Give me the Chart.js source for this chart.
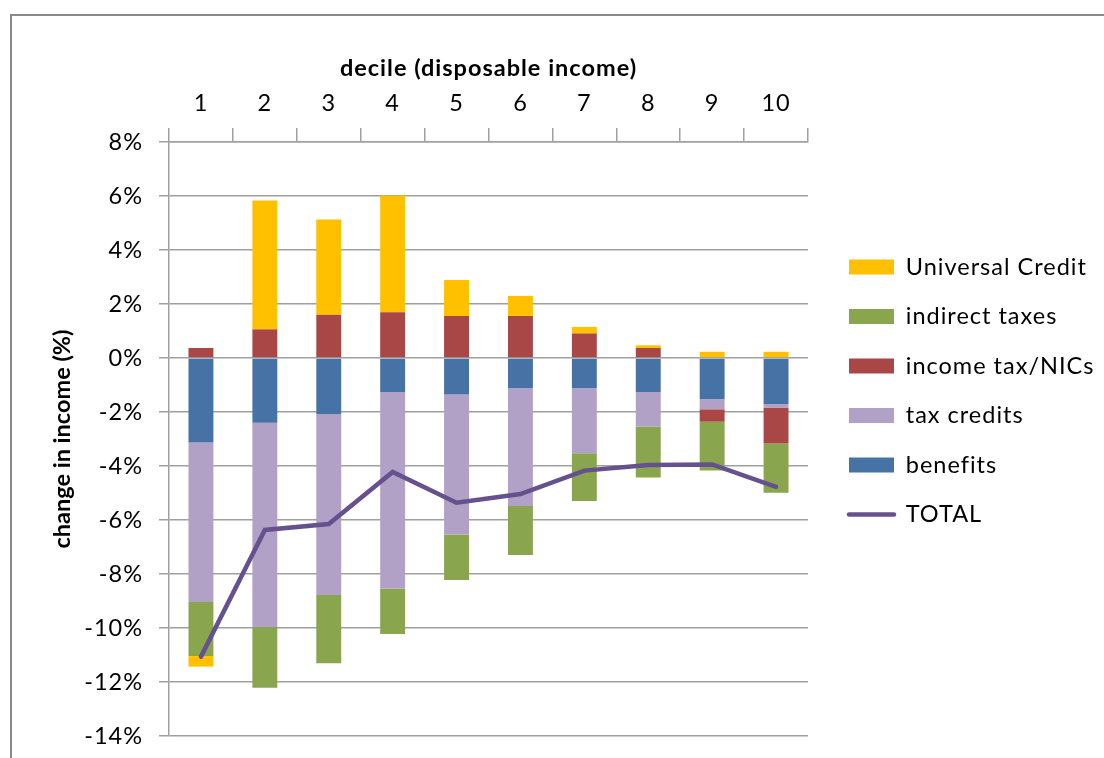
<!DOCTYPE html>
<html><head><meta charset="utf-8">
<script src="https://cdn.jsdelivr.net/npm/chart.js@4.4.1/dist/chart.umd.min.js"></script>
<style>html,body{margin:0;padding:0;background:#fff}#wrap{width:1104px;height:758px;position:relative}</style>
</head><body><div id="wrap"><canvas id="c" width="1104" height="758"></canvas></div>
<script>
const deciles = ['1','2','3','4','5','6','7','8','9','10'];
const benefits = [-3.13, -2.40, -2.08, -1.26, -1.35, -1.12, -1.12, -1.26, -1.53, -1.70];
const taxCredits = [-5.91, -7.56, -6.70, -7.28, -5.19, -4.36, -2.41, -1.28, -0.37, -0.15];
const incomeTaxNICs = [0.37, 1.06, 1.60, 1.69, 1.56, 1.56, 0.91, 0.37, -0.46, -1.32];
const indirectTaxes = [-2.00, -2.25, -2.53, -1.68, -1.68, -1.82, -1.77, -1.89, -1.81, -1.82];
const universalCredit = [-0.39, 4.77, 3.53, 4.33, 1.33, 0.74, 0.24, 0.10, 0.23, 0.23];
const total = [-11.06, -6.37, -6.15, -4.22, -5.36, -5.04, -4.17, -3.96, -3.94, -4.77];
const yTicks = [-14, -12, -10, -8, -6, -4, -2, 0, 2, 4, 6, 8];
const legendOrder = ['Universal Credit', 'indirect taxes', 'income tax/NICs', 'tax credits', 'benefits', 'TOTAL'];

const FONT = 'Lato, Carlito, Calibri, sans-serif';
const FS = 23.5;
const GRID = '#a0a0a0';
const SPACING = '1px';

const bar = (label, data, color) => ({
  type: 'bar', label, data, backgroundColor: color, borderWidth: 0,
  order: 1, pointStyle: 'rect', barPercentage: 0.39, categoryPercentage: 1
});

const frame = {
  id: 'frame',
  beforeDraw(chart) {
    const ctx = chart.ctx;
    ctx.letterSpacing = SPACING;
    ctx.save();
    ctx.fillStyle = '#fff';
    ctx.fillRect(0, 0, chart.width, chart.height);
    ctx.strokeStyle = '#8a8a8a';
    ctx.lineWidth = 2;
    ctx.strokeRect(11, 15, chart.width + 20, chart.height + 20);
    ctx.restore();
  }
};

const spacing = {
  id: 'spacing',
  beforeInit(chart) { chart.ctx.letterSpacing = SPACING; },
  beforeLayout(chart) { chart.ctx.letterSpacing = SPACING; },
  afterLayout(chart) {
    const y = chart.scales.y;
    if (y && !y._noSpacingTitle) {
      const orig = y.drawTitle.bind(y);
      y.drawTitle = function () {
        const c = this.ctx;
        const prev = c.letterSpacing;
        c.letterSpacing = '0px';
        orig();
        c.letterSpacing = prev;
      };
      y._noSpacingTitle = true;
    }
  }
};

const legendPlace = {
  id: 'legendPlace',
  afterLayout(chart) {
    const lg = chart.legend;
    const pad = lg.options.labels.padding;
    const fs = lg.options.labels.font.size;
    const L = 849 - pad;
    const T = 267 - fs / 2 - pad;
    const W = lg.width, H = 330;
    lg.left = L; lg.right = L + W; lg.top = T; lg.bottom = T + H; lg.height = H;
  }
};

new Chart(document.getElementById('c'), {
  data: {
    labels: deciles,
    datasets: [
      { type: 'line', label: 'TOTAL', data: total, borderColor: '#66518f', backgroundColor: '#66518f',
        borderWidth: 4.5, pointRadius: 0, tension: 0, order: 0, stack: 'total', pointStyle: 'line',
        borderCapStyle: 'round', borderJoinStyle: 'miter' },
      bar('benefits', benefits, '#4672a6'),
      bar('tax credits', taxCredits, '#b2a1c7'),
      bar('income tax/NICs', incomeTaxNICs, '#a84746'),
      bar('indirect taxes', indirectTaxes, '#89a54e'),
      bar('Universal Credit', universalCredit, '#ffc000')
    ]
  },
  options: {
    responsive: false,
    animation: false,
    layout: { padding: { left: 40, top: 30, right: 296, bottom: 22 } },
    plugins: {
      tooltip: { enabled: false },
      legend: {
        position: 'chartArea',
        align: 'start',
        labels: {
          usePointStyle: true,
          pointStyleWidth: 45,
          boxHeight: 15,
          padding: 26,
          color: '#000',
          font: { family: FONT, size: FS },
          sort: (a, b) => legendOrder.indexOf(a.text) - legendOrder.indexOf(b.text),
          generateLabels(chart) {
            const items = Chart.defaults.plugins.legend.labels.generateLabels(chart);
            items.forEach(it => {
              if (it.text === 'TOTAL') {
                it.pointStyle = 'line'; it.lineWidth = 4.5; it.strokeStyle = '#66518f'; it.lineCap = 'round';
              } else {
                it.pointStyle = 'rect'; it.lineWidth = 0;
              }
            });
            return items;
          }
        }
      }
    },
    scales: {
      x: {
        type: 'category',
        position: 'top',
        stacked: true,
        offset: true,
        afterFit(s) { s.height = 112; s.paddingLeft = 0; s.paddingRight = 0; },
        grid: { display: true, offset: true, drawOnChartArea: false, drawTicks: true, tickLength: 14, color: GRID, lineWidth: 1.5 },
        border: { display: true, color: GRID, width: 1.5 },
        ticks: { color: '#000', font: { family: FONT, size: FS }, padding: 10, maxRotation: 0 },
        title: { display: true, text: 'decile (disposable income)', color: '#000',
          font: { family: FONT, size: FS, weight: 'bold' }, padding: { top: 24, bottom: 0 } }
      },
      y: {
        stacked: true,
        min: -14, max: 8,
        afterFit(s) { s.width = 129; s.paddingTop = 0; s.paddingBottom = 0; },
        afterBuildTicks(s) { s.ticks = yTicks.map(v => ({ value: v })); },
        grid: { color: GRID, lineWidth: 1.5, tickLength: 10, drawTicks: true },
        border: { display: true, color: GRID, width: 1.5 },
        ticks: { color: '#000', font: { family: FONT, size: FS }, padding: 16, callback: v => v + '%' },
        title: { display: true, text: 'change in income (%)', color: '#000',
          font: { family: FONT, size: FS, weight: 'bold' }, padding: { top: 8, bottom: 0 } }
      }
    }
  },
  plugins: [spacing, frame, legendPlace]
});
</script>
</body></html>
